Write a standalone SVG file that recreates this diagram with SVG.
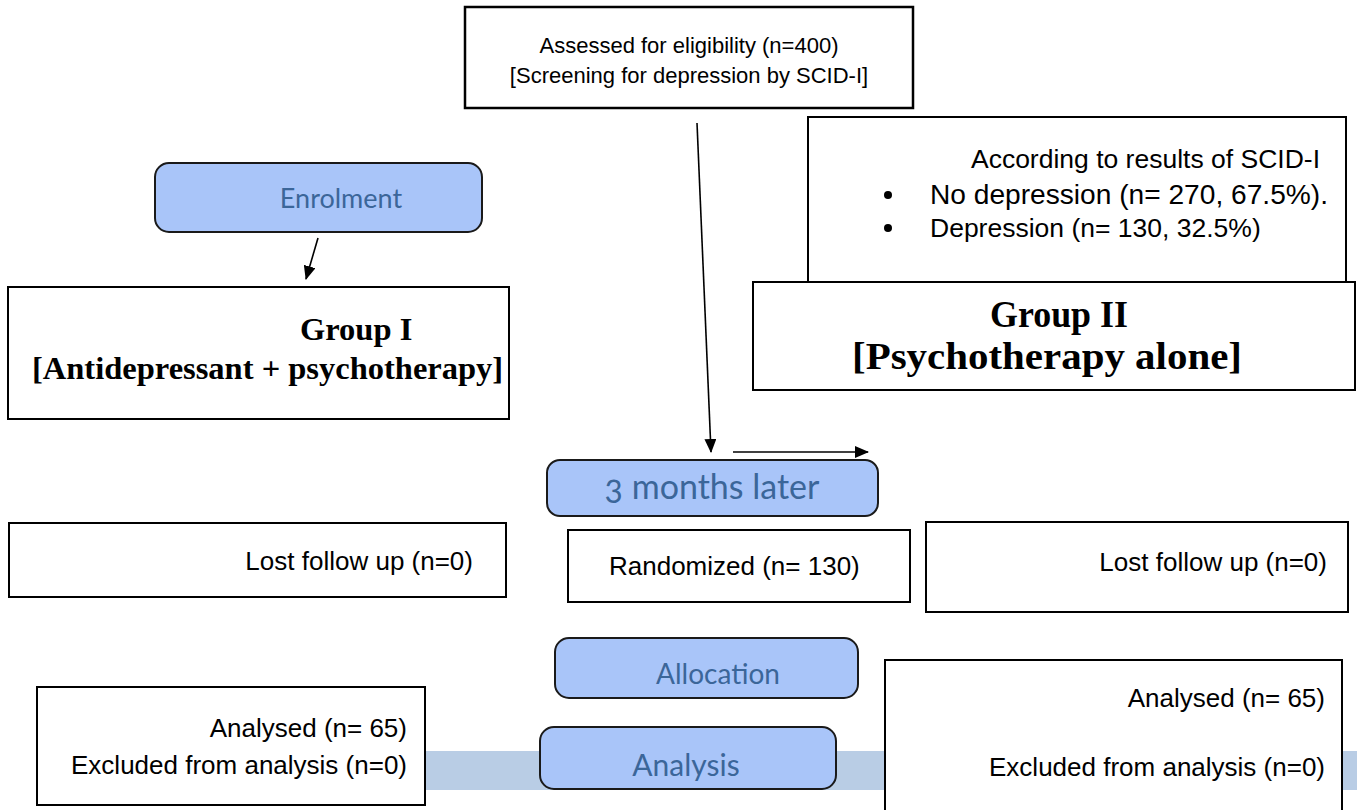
<svg xmlns="http://www.w3.org/2000/svg" width="1360" height="810" viewBox="0 0 1360 810">
<defs>
<marker id="ah" markerWidth="14" markerHeight="12" refX="13" refY="6" orient="auto" markerUnits="userSpaceOnUse"><path d="M0,0 L14,6 L0,12 Z" fill="#000"/></marker>
<style>
.box{fill:#fff;stroke:#000;stroke-width:2}
.pill{fill:#a9c5f9;stroke:#1a1a1a;stroke-width:2}
.t{font-family:"Liberation Sans",Arial,sans-serif;font-size:26px;fill:#000}
.s{font-family:"Liberation Sans",Arial,sans-serif;font-size:22px;fill:#000}
.b{font-family:"Liberation Serif","Times New Roman",serif;font-weight:bold;font-size:32.5px;fill:#000}
.b2{font-family:"Liberation Serif","Times New Roman",serif;font-weight:bold;font-size:37px;fill:#000}
.c{font-family:Lato,"Open Sans",sans-serif;fill:#3b6699;font-variant-numeric:oldstyle-nums}
.conn{stroke:#000;stroke-width:1.6;fill:none}
</style>
</defs>
<rect width="1360" height="810" fill="#fff"/>
<rect id="band" x="57" y="751" width="1300" height="39" fill="#b9cde5"/>

<g id="assessed">
<rect class="box" x="465" y="7" width="448" height="101" style="stroke-width:2.5"/>
<text class="s" x="689" y="53" text-anchor="middle">Assessed for eligibility (n=400)</text>
<text class="s" x="689" y="83" text-anchor="middle">[Screening for depression by SCID-I]</text>
</g>

<g id="enrolment">
<rect class="pill" x="155" y="163" width="327" height="69" rx="14"/>
<text class="c" x="341" y="208" text-anchor="middle" style="font-size:27px">Enrolment</text>
</g>

<g id="scid">
<rect class="box" x="808" y="117" width="538" height="166"/>
<text class="t" x="1320" y="168" text-anchor="end" style="font-size:26.5px">According to results of SCID-I</text>
<circle cx="888" cy="195" r="4"/>
<circle cx="888" cy="228" r="4"/>
<text class="t" x="930" y="204" textLength="398" lengthAdjust="spacingAndGlyphs" style="font-size:27px">No depression (n= 270, 67.5%).</text>
<text class="t" x="930" y="237" style="font-size:26.5px">Depression (n= 130, 32.5%)</text>
</g>

<g id="group1">
<rect class="box" x="8" y="287" width="501" height="132"/>
<text class="b" x="300" y="340">Group I</text>
<text class="b" x="32" y="379">[Antidepressant + psychotherapy]</text>
</g>

<g id="group2">
<rect class="box" x="753" y="282" width="602" height="108"/>
<text class="b2" x="990" y="327" textLength="138" lengthAdjust="spacingAndGlyphs">Group II</text>
<text class="b2" x="852" y="369" textLength="390" lengthAdjust="spacingAndGlyphs">[Psychotherapy alone]</text>
</g>

<g id="three-months">
<rect class="pill" x="547" y="460" width="331" height="56" rx="13"/>
<text class="c" x="712" y="499" text-anchor="middle" style="font-size:34px">3 months later</text>
</g>

<g id="lost1">
<rect class="box" x="9" y="523" width="497" height="74"/>
<text class="t" x="473" y="570" text-anchor="end">Lost follow up (n=0)</text>
</g>

<g id="randomized">
<rect class="box" x="568" y="530" width="342" height="72"/>
<text class="t" x="609" y="575">Randomized (n= 130)</text>
</g>

<g id="lost2">
<rect class="box" x="926" y="522" width="422" height="90"/>
<text class="t" x="1327" y="571" text-anchor="end">Lost follow up (n=0)</text>
</g>

<g id="allocation">
<rect class="pill" x="555" y="638" width="303" height="60" rx="14"/>
<text class="c" x="718" y="684" text-anchor="middle" style="font-size:28px">Allocation</text>
</g>

<g id="analysed1">
<rect class="box" x="37" y="687" width="388" height="118"/>
<text class="t" x="407" y="737" text-anchor="end">Analysed (n= 65)</text>
<text class="t" x="407" y="774" text-anchor="end">Excluded from analysis (n=0)</text>
</g>

<g id="analysis">
<rect class="pill" x="540" y="727" width="296" height="62" rx="14"/>
<text class="c" x="686" y="776" text-anchor="middle" style="font-size:30px">Analysis</text>
</g>

<g id="analysed2">
<rect class="box" x="885" y="660" width="457" height="160"/>
<text class="t" x="1325" y="707" text-anchor="end">Analysed (n= 65)</text>
<text class="t" x="1325" y="776" text-anchor="end">Excluded from analysis (n=0)</text>
</g>

<g id="connectors">
<line class="conn" x1="318" y1="238" x2="306" y2="279" marker-end="url(#ah)"/>
<line class="conn" x1="697" y1="123" x2="711" y2="452" marker-end="url(#ah)"/>
<line class="conn" x1="733" y1="452" x2="868" y2="452" marker-end="url(#ah)"/>
</g>
</svg>
